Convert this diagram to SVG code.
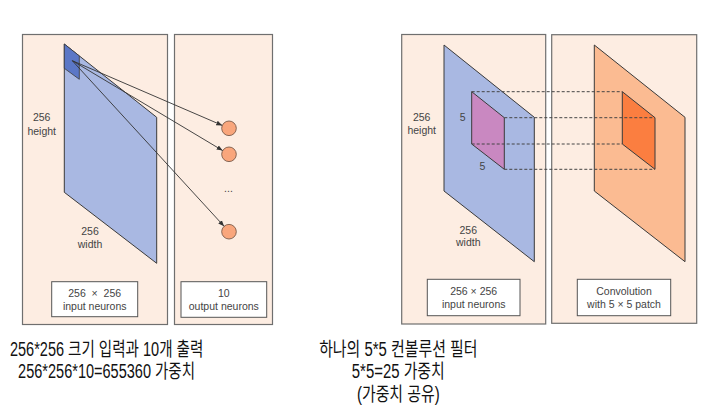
<svg xmlns="http://www.w3.org/2000/svg" width="719" height="419" viewBox="0 0 719 419">
<defs>
<style>
.panel{fill:#FDEDE2;stroke:#6f6f6f;stroke-width:1.2}
.lbl{fill:#fff;stroke:#555;stroke-width:1}
.t{font-family:"Liberation Sans",Arial,sans-serif;font-size:10.5px;fill:#444;text-anchor:middle}
.k{font-family:"Liberation Sans","Noto Sans CJK KR",sans-serif;font-size:19.5px;fill:#111;text-anchor:middle}
.blue{fill:#A9B8E2;stroke:#3a3a3a;stroke-width:1}
.orange{fill:#FBBB92;stroke:#3a3a3a;stroke-width:1}
.conn{stroke:#333;stroke-width:0.9;fill:none}
.dash{stroke:#444;stroke-width:1;stroke-dasharray:3,2;fill:none}
.neuron{fill:#F9A67C;stroke:#7a5a48;stroke-width:0.9}
</style>
<marker id="ah" viewBox="0 0 10 10" refX="10" refY="5" markerWidth="6" markerHeight="6" markerUnits="userSpaceOnUse" orient="auto">
<path d="M0,1 L10,5 L0,9 z" fill="#333"/>
</marker>
</defs>
<rect width="719" height="419" fill="#fff"/>

<g id="input-panel">
<rect class="panel" x="22.5" y="34.5" width="145" height="290"/>
<polygon class="blue" points="64.3,44 156.7,117.3 156.7,263.3 64.3,192.3"/>
<polygon points="64.3,44 79.3,55.9 79.3,79.3 64.3,68.3" fill="#5B77C6" stroke="#3a3a3a" stroke-width="0.8"/>
<text class="t" x="41.7" y="121">256</text>
<text class="t" x="41.7" y="134.5">height</text>
<text class="t" x="90" y="234.5">256</text>
<text class="t" x="90" y="248">width</text>
<rect class="lbl" x="51.7" y="281.7" width="86" height="35"/>
<text class="t" x="94.7" y="296.5" xml:space="preserve">256  ×  256</text>
<text class="t" x="94.7" y="310">input neurons</text>
</g>

<g id="output-panel">
<rect class="panel" x="174.5" y="34.5" width="98" height="290"/>
<circle class="neuron" cx="229" cy="128.3" r="7.3"/>
<circle class="neuron" cx="229" cy="154.3" r="7.3"/>
<circle class="neuron" cx="229" cy="231.7" r="7.3"/>
<text class="t" x="228.5" y="192">...</text>
<rect class="lbl" x="181" y="281.7" width="85.7" height="35.6"/>
<text class="t" x="223.8" y="296.5">10</text>
<text class="t" x="223.8" y="310">output neurons</text>
</g>

<g id="conv-input-panel">
<rect class="panel" x="401.7" y="34.5" width="144" height="289.5"/>
<polygon class="blue" points="444,45 534.3,117.3 534.3,261.7 444,191"/>
<polygon points="471.7,91.7 504.3,117.7 504.3,169.3 471.7,144" fill="#C988C1" stroke="#3a3a3a" stroke-width="1"/>
<text class="t" x="462.7" y="121">5</text>
<text class="t" x="482.3" y="170">5</text>
<text class="t" x="421.7" y="121">256</text>
<text class="t" x="421.7" y="134">height</text>
<text class="t" x="468.3" y="233.5">256</text>
<text class="t" x="468.3" y="246">width</text>
<rect class="lbl" x="427.3" y="279.3" width="92.7" height="36.4"/>
<text class="t" x="473.7" y="294.5">256 × 256</text>
<text class="t" x="473.7" y="308">input neurons</text>
</g>

<g id="conv-output-panel">
<rect class="panel" x="551.7" y="34.7" width="145" height="288.6"/>
<polygon class="orange" points="594.3,45 685,117.3 685,261.7 594.3,191"/>
<polygon points="622.3,91.7 655,117.7 655,169.3 622.3,144" fill="#FB7E40" stroke="#3a3a3a" stroke-width="1"/>
<rect class="lbl" x="577.3" y="279.3" width="93.4" height="36.4"/>
<text class="t" x="624" y="294.5">Convolution</text>
<text class="t" x="624" y="308">with 5 × 5 patch</text>
</g>

<g id="connectors">
<line class="conn" x1="72.3" y1="60.7" x2="222.3" y2="125.4" marker-end="url(#ah)"/>
<line class="conn" x1="72.3" y1="60.7" x2="222.7" y2="150.6" marker-end="url(#ah)"/>
<line class="conn" x1="72.3" y1="60.7" x2="224.1" y2="226.3" marker-end="url(#ah)"/>
<line class="dash" x1="471.7" y1="91.7" x2="622.3" y2="91.7"/>
<line class="dash" x1="504.3" y1="117.7" x2="655" y2="117.7"/>
<line class="dash" x1="471.7" y1="144" x2="622.3" y2="144"/>
<line class="dash" x1="504.3" y1="169.3" x2="655" y2="169.3"/>
</g>

<g id="captions">
<text class="k" transform="translate(106.6,0) scale(0.745,1)"><tspan x="0" y="356">256*256 크기 입력과 10개 출력</tspan><tspan x="0" y="378.5">256*256*10=655360 가중치</tspan></text>
<text class="k" transform="translate(398.3,0) scale(0.765,1)"><tspan x="0" y="356">하나의 5*5 컨볼루션 필터</tspan><tspan x="0" y="378.5">5*5=25 가중치</tspan><tspan x="0" y="401">(가중치 공유)</tspan></text>
</g>
</svg>
